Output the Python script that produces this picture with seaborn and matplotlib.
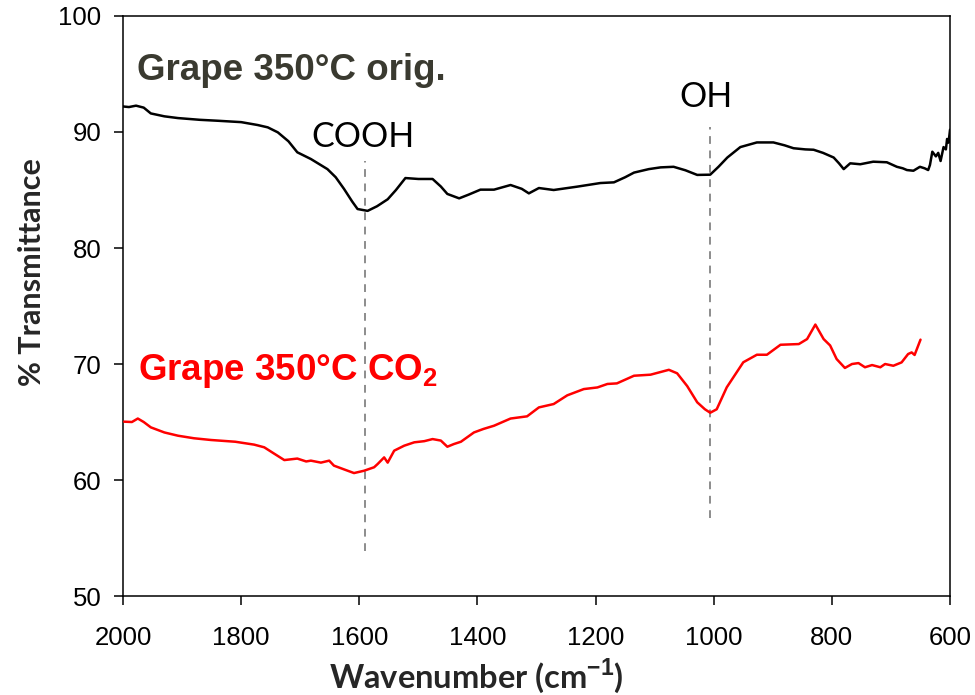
import matplotlib
matplotlib.use("Agg")
import matplotlib.pyplot as plt
import seaborn as sns
import pandas as pd

# ---- data ----
orig_wavenumber = [2000, 1990, 1978, 1965, 1953, 1930, 1907, 1870, 1840, 1800, 1772, 1755, 1738,
                   1720, 1705, 1682, 1654, 1640, 1626, 1612, 1603, 1586, 1570, 1552, 1538, 1522,
                   1500, 1476, 1462, 1451, 1431, 1415, 1395, 1372, 1344, 1325, 1313, 1296, 1271,
                   1231, 1192, 1169, 1150, 1135, 1110, 1090, 1068, 1048, 1028, 1006, 992, 977,
                   955, 927, 899, 880, 865, 845, 831, 815, 797, 788, 780, 769, 752, 730, 707,
                   690, 680, 673, 662, 651, 643, 637, 634, 630, 624, 620, 616, 611, 607, 605,
                   602.5, 600]
orig_transmittance = [92.2, 92.15, 92.27, 92.1, 91.6, 91.35, 91.2, 91.05, 90.97, 90.85, 90.6, 90.4,
                      89.97, 89.2, 88.25, 87.67, 86.8, 86.1, 85.1, 84.0, 83.36, 83.2, 83.6, 84.2,
                      85.0, 86.03, 85.95, 85.95, 85.3, 84.66, 84.28, 84.6, 85.03, 85.03, 85.43,
                      85.1, 84.71, 85.17, 85.0, 85.29, 85.6, 85.66, 86.1, 86.5, 86.8, 86.95, 87.0,
                      86.7, 86.3, 86.32, 87.0, 87.8, 88.7, 89.1, 89.1, 88.85, 88.6, 88.5, 88.47,
                      88.2, 87.8, 87.3, 86.8, 87.3, 87.22, 87.44, 87.39, 87.0, 86.87, 86.72, 86.66,
                      87.0, 86.87, 86.72, 87.16, 88.3, 87.9, 88.2, 87.5, 88.7, 88.5, 89.4, 89.08,
                      90.2]

co2_wavenumber = [1998, 1985, 1975, 1965, 1953, 1930, 1907, 1880, 1851, 1810, 1778, 1761, 1745,
                  1727, 1705, 1690, 1682, 1665, 1651, 1643, 1625, 1609, 1592, 1575, 1569, 1558,
                  1552, 1541, 1524, 1507, 1490, 1476, 1462, 1451, 1440, 1428, 1406, 1390, 1372,
                  1344, 1316, 1296, 1271, 1248, 1220, 1197, 1180, 1164, 1135, 1107, 1076, 1062,
                  1045, 1028, 1015, 1006, 995, 978, 950, 927, 910, 887, 856, 842, 828, 814, 803,
                  792, 778, 766, 755, 744, 732, 718, 710, 696, 682, 671, 665, 660, 650]
co2_transmittance = [65.03, 65.0, 65.3, 65.0, 64.54, 64.1, 63.82, 63.6, 63.45, 63.3, 63.05, 62.82,
                     62.3, 61.72, 61.85, 61.6, 61.67, 61.5, 61.67, 61.24, 60.9, 60.6, 60.8, 61.1,
                     61.38, 61.95, 61.5, 62.53, 62.96, 63.25, 63.35, 63.53, 63.4, 62.87, 63.1,
                     63.3, 64.1, 64.4, 64.68, 65.3, 65.49, 66.26, 66.55, 67.3, 67.84, 67.98, 68.28,
                     68.33, 68.99, 69.08, 69.5, 69.2, 68.1, 66.7, 66.1, 65.8, 66.1, 67.99, 70.15,
                     70.8, 70.8, 71.66, 71.72, 72.15, 73.4, 72.15, 71.6, 70.43, 69.66, 70.0, 70.08,
                     69.72, 69.91, 69.72, 70.0, 69.85, 70.14, 70.86, 71.0, 70.78, 72.1]

peak_labels = ["COOH", "OH"]
peak_positions = [1590, 1006]
peak_line_top = [87.5, 90.4]
peak_line_bottom = [53.9, 56.7]
peak_label_x = [1594, 1013]
peak_label_y = [88.73, 92.16]

x_ticks = [2000, 1800, 1600, 1400, 1200, 1000, 800, 600]
y_ticks = [50, 60, 70, 80, 90, 100]

# ---- style ----
sns.set_style("white")
plt.rcParams["font.family"] = ["Liberation Sans", "DejaVu Sans"]
plt.rcParams["mathtext.fontset"] = "custom"
plt.rcParams["mathtext.rm"] = "Liberation Sans"
plt.rcParams["mathtext.bf"] = "Liberation Sans:bold"

fig = plt.figure(figsize=(9.75, 6.95), dpi=100)
ax = fig.add_axes([0.1262, 0.1424, 0.8482, 0.8346])

df_orig = pd.DataFrame({"wavenumber": orig_wavenumber, "T": orig_transmittance})
df_co2 = pd.DataFrame({"wavenumber": co2_wavenumber, "T": co2_transmittance})

for i in range(len(peak_labels)):
    ax.plot([peak_positions[i], peak_positions[i]], [peak_line_bottom[i], peak_line_top[i]],
            color="#8c8c8c", lw=1.4, dashes=(4, 3.4), zorder=1)

sns.lineplot(data=df_orig, x="wavenumber", y="T", sort=False, estimator=None,
             color="black", lw=1.8, ax=ax, zorder=3)
sns.lineplot(data=df_co2, x="wavenumber", y="T", sort=False, estimator=None,
             color="#ff0000", lw=1.8, ax=ax, zorder=3)

ax.set_xlim(2000, 600)
ax.set_ylim(50, 100)
ax.set_xticks(x_ticks)
ax.set_yticks(y_ticks)
ax.tick_params(axis="both", direction="out", length=6.5, width=1.1, color="black",
               labelsize=18.5, labelcolor="black", bottom=True, left=True)
ax.tick_params(axis="x", pad=15)
ax.tick_params(axis="y", pad=9)
for s in ax.spines.values():
    s.set_visible(True)
    s.set_color("black")
    s.set_linewidth(1.1)

lab_font = ["Lato", "DejaVu Sans"]
ax.set_xlabel("Wavenumber (cm$^{\\mathbf{-1}}$)", fontsize=23.5, fontweight="bold",
              family=lab_font, va="baseline", ha="center")
ax.xaxis.set_label_coords(0.4274, -0.1586)
ax.set_ylabel("% Transmittance", fontsize=22, fontweight="bold", family=lab_font,
              va="center", ha="center")
ax.yaxis.set_label_coords(-0.1106, 0.5586)

# annotations
ax.text(1976, 94.48, "Grape 350°C orig.", fontsize=26.5, fontweight="bold",
        color="#3a3a30", ha="left", va="baseline")
ax.text(1975, 68.62, r"Grape 350°C CO$_{\mathbf{2}}$", fontsize=26.5, fontweight="bold",
        color="#ff0000", ha="left", va="baseline")
for i, lab in enumerate(peak_labels):
    ax.text(peak_label_x[i], peak_label_y[i], lab, fontsize=24.5, family=["Lato", "DejaVu Sans"],
            color="black", ha="center", va="baseline")

fig.savefig("out.png", dpi=100)
